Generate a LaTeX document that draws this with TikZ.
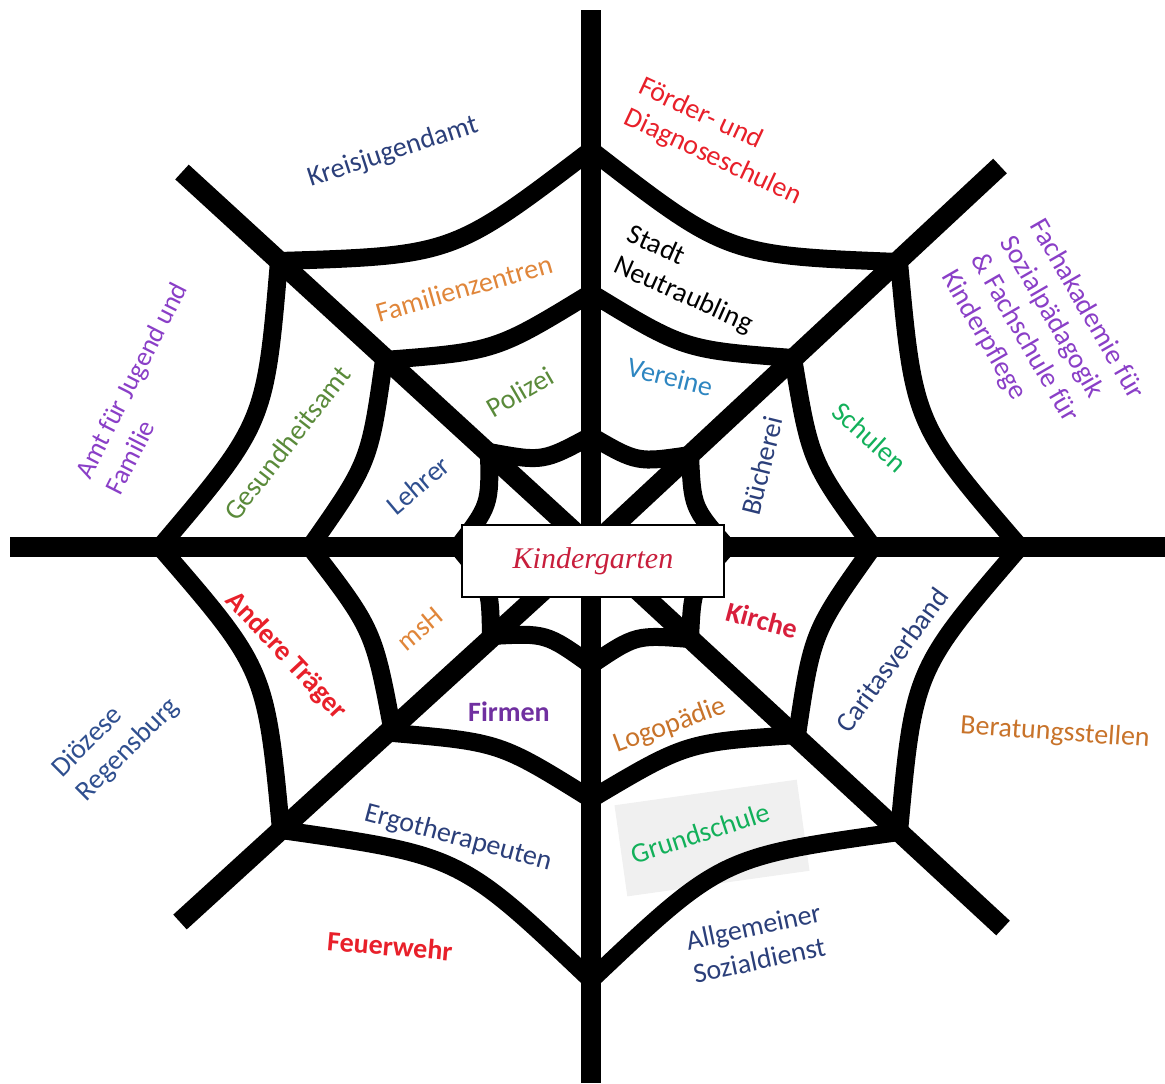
\documentclass[tikz,border=0pt]{standalone}
\usepackage{fontspec}
\setmainfont{Carlito}
\newfontfamily\guion{Liberation Serif}
\usepackage{tikz}
\usetikzlibrary{calc}

\definecolor{azulosc}{HTML}{2B3F7A}
\definecolor{azulmed}{HTML}{2F4F8F}
\definecolor{azulclaro}{HTML}{2E86C1}
\definecolor{rojo}{HTML}{E8202A}
\definecolor{carmin}{HTML}{D81F3C}
\definecolor{morado}{HTML}{8A3FC7}
\definecolor{moradoosc}{HTML}{7030A0}
\definecolor{naranja}{HTML}{E0863A}
\definecolor{naranjaosc}{HTML}{C8732A}
\definecolor{oliva}{HTML}{5A8A3A}
\definecolor{verde}{HTML}{12B05A}
\definecolor{rojokg}{HTML}{C81E3C}
\definecolor{gris}{HTML}{F0F0F0}

\begin{document}
\begin{tikzpicture}[x=0.5pt, y=-0.5pt,
		radio/.style={line width=10pt},
		hilo/.style={line width=9pt, line join=round, line cap=round},
		etiqueta/.style={font=\fontsize{14}{17}\selectfont, inner sep=0pt, align=left}]
			
			\useasboundingbox (0,0) rectangle (1165,1083);
			
			% Centro y extremos de los radios
			\coordinate (C) at (591,547);
			\coordinate (EN) at (591,10);
			\coordinate (ENE) at (1000,166);
			\coordinate (EE) at (1165,547);
			\coordinate (ESE) at (1003,928);
			\coordinate (ES) at (591,1083);
			\coordinate (ESW) at (180,922);
			\coordinate (EW) at (10,547);
			\coordinate (ENW) at (182,172);
			
			% Nudos del anillo 1
			\coordinate (A1N) at (591,436);
			\coordinate (A1NE) at (690,455);
			\coordinate (A1E) at (727,547);
			\coordinate (A1SE) at (690,639);
			\coordinate (A1S) at (591,665);
			\coordinate (A1SW) at (491,636);
			\coordinate (A1W) at (458,547);
			\coordinate (A1NW) at (489,452);
			
			% Nudos del anillo 2
			\coordinate (A2N) at (591,293);
			\coordinate (A2NE) at (793,358);
			\coordinate (A2E) at (873,547);
			\coordinate (A2SE) at (797,735);
			\coordinate (A2S) at (591,799);
			\coordinate (A2SW) at (393,733);
			\coordinate (A2W) at (310,547);
			\coordinate (A2NW) at (384,360);
			
			% Nudos del anillo 3
			\coordinate (A3N) at (591,150);
			\coordinate (A3NE) at (899,262);
			\coordinate (A3E) at (1020,547);
			\coordinate (A3SE) at (899,832);
			\coordinate (A3S) at (591,980);
			\coordinate (A3SW) at (281,830);
			\coordinate (A3W) at (160,547);
			\coordinate (A3NW) at (279,261);
			
			% Fondo de Grundschule
			\node[fill=gris, rotate=8, minimum width=92pt, minimum height=46pt] (fondo) at (712,838) {};
			
			% Radios
			\foreach \dir in {N,NE,E,SE,S,SW,W,NW}{
				\draw[radio] (C) -- (E\dir);
			}
			
			% Anillos (el hilo cuelga hacia el centro)
			\foreach \n/\f in {1/0.35, 2/0.24, 3/0.32}{
				\draw[hilo] (A\n N)
					.. controls ($(A\n N)!.5!(A\n NE)!\f!-90:(A\n NE)$) .. (A\n NE)
					.. controls ($(A\n NE)!.5!(A\n E)!\f!-90:(A\n E)$) .. (A\n E)
					.. controls ($(A\n E)!.5!(A\n SE)!\f!-90:(A\n SE)$) .. (A\n SE)
					.. controls ($(A\n SE)!.5!(A\n S)!\f!-90:(A\n S)$) .. (A\n S)
					.. controls ($(A\n S)!.5!(A\n SW)!\f!-90:(A\n SW)$) .. (A\n SW)
					.. controls ($(A\n SW)!.5!(A\n W)!\f!-90:(A\n W)$) .. (A\n W)
					.. controls ($(A\n W)!.5!(A\n NW)!\f!-90:(A\n NW)$) .. (A\n NW)
					.. controls ($(A\n NW)!.5!(A\n N)!\f!-90:(A\n N)$) .. (A\n N);
			}
			
			% Caja central
			\node[draw, line width=1pt, fill=white, minimum width=131pt, minimum height=36pt] (kinder) at (593,561)
				{\guion\itshape\fontsize{15}{18}\selectfont\color{rojokg}Kindergarten};
			
			% Etiquetas
			\node[etiqueta, text=azulosc, rotate=18] (kreis) at (393,152) {Kreisjugendamt};
			\node[etiqueta, text=rojo, rotate=-25] (foerder) at (720,142) {Förder- und\\Diagnoseschulen};
			\node[etiqueta, text=black, rotate=-24] (stadt) at (690,280) {Stadt\\Neutraubling};
			\node[etiqueta, text=morado, rotate=-60] (fachak) at (1042,335) {Fachakademie für\\Sozialpädagogik\\\& Fachschule für\\Kinderpflege};
			\node[etiqueta, text=morado, rotate=63, font=\fontsize{13.5}{17}\selectfont] (amt) at (146,388) {Amt für Jugend und\\Familie};
			\node[etiqueta, text=oliva, rotate=52] (gesund) at (287,443) {Gesundheitsamt};
			\node[etiqueta, text=naranja, rotate=16] (famz) at (464,288) {Familienzentren};
			\node[etiqueta, text=oliva, rotate=30] (polizei) at (520,392) {Polizei};
			\node[etiqueta, text=azulclaro, rotate=-14] (vereine) at (670,377) {Vereine};
			\node[etiqueta, text=azulmed, rotate=40] (lehrer) at (418,485) {Lehrer};
			\node[etiqueta, text=azulosc, rotate=76] (buecherei) at (762,466) {Bücherei};
			\node[etiqueta, text=verde, rotate=-42] (schulen) at (870,437) {Schulen};
			\node[etiqueta, text=rojo, rotate=-47, font=\fontsize{14}{17}\selectfont\bfseries] (andere) at (286,656) {Andere Träger};
			\node[etiqueta, text=naranja, rotate=40] (msh) at (420,629) {msH};
			\node[etiqueta, text=carmin, rotate=-15, font=\fontsize{14}{17}\selectfont\bfseries] (kirche) at (762,620) {Kirche};
			\node[etiqueta, text=azulosc, rotate=54] (caritas) at (892,660) {Caritasverband};
			\node[etiqueta, text=naranjaosc, rotate=-4] (beratung) at (1055,733) {Beratungsstellen};
			\node[etiqueta, text=azulmed, rotate=45] (dioezese) at (116,738) {Diözese\\Regensburg};
			\node[etiqueta, text=moradoosc, font=\fontsize{14}{17}\selectfont\bfseries] (firmen) at (509,712) {Firmen};
			\node[etiqueta, text=naranjaosc, rotate=20] (logo) at (670,726) {Logopädie};
			\node[etiqueta, text=azulosc, rotate=-15] (ergo) at (458,838) {Ergotherapeuten};
			\node[etiqueta, text=verde, rotate=18] (grund) at (700,833) {Grundschule};
			\node[etiqueta, text=rojo, rotate=-5, font=\fontsize{14}{17}\selectfont\bfseries] (feuerwehr) at (390,946) {Feuerwehr};
			\node[etiqueta, text=azulosc, rotate=12] (asd) at (757,943) {Allgemeiner\\Sozialdienst};
			
		\end{tikzpicture}
\end{document}
